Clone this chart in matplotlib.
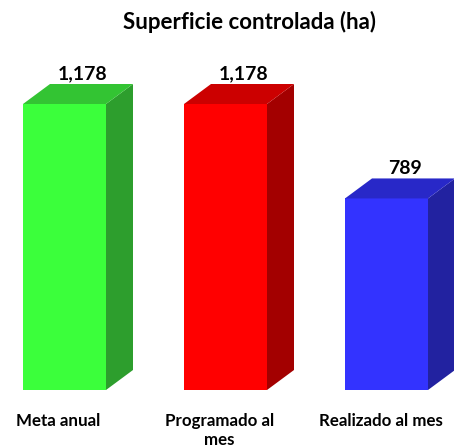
import matplotlib
matplotlib.use('Agg')
import matplotlib.pyplot as plt
from matplotlib.patches import Polygon

plt.rcParams['font.family'] = ['Lato', 'DejaVu Sans']

categories = ['Meta anual', 'Programado al\nmes', 'Realizado al mes']
values = [1178, 1178, 789]
labels = ['1,178', '1,178', '789']
front_colors = ['#3BFF3B', '#FF0000', '#3333FF']
top_colors = ['#33C433', '#CC0000', '#2828C8']
side_colors = ['#2D9E2D', '#A30000', '#2222A0']

fig = plt.figure(figsize=(4.54, 4.47), dpi=100)
ax = fig.add_axes([0, 57/447, 1, 340/447])
ax.set_xlim(-64.5/161, (454-64.5)/161)
ax.set_ylim(0, 1178*340/286)
ax.axis('off')

w = 83/161
dx = 27/161
dy = 20*1178/286

for i, v in enumerate(values):
    x0, x1 = i - w/2, i + w/2
    ax.add_patch(Polygon([(x0, 0), (x1, 0), (x1, v), (x0, v)], closed=True,
                         fc=front_colors[i], ec='none'))
    ax.add_patch(Polygon([(x1, 0), (x1+dx, dy), (x1+dx, v+dy), (x1, v)], closed=True,
                         fc=side_colors[i], ec='none'))
    ax.add_patch(Polygon([(x0, v), (x1, v), (x1+dx, v+dy), (x0+dx, v+dy)], closed=True,
                         fc=top_colors[i], ec='none'))
    ax.text(i + dx/2 + 0.03, v + dy + 8, labels[i], ha='center', va='bottom',
            fontsize=14, fontweight='bold')
    fig.text((64.5 + 161*i - 6)/454, 1 - 413/447, categories[i], ha='center', va='top',
             multialignment='center', fontsize=12.2, fontweight='bold', linespacing=1.2)

fig.text(250/454, 1 - 22/447, 'Superficie controlada (ha)', ha='center', va='center',
         fontsize=16, fontweight='bold')

fig.savefig('out.png', dpi=100)
